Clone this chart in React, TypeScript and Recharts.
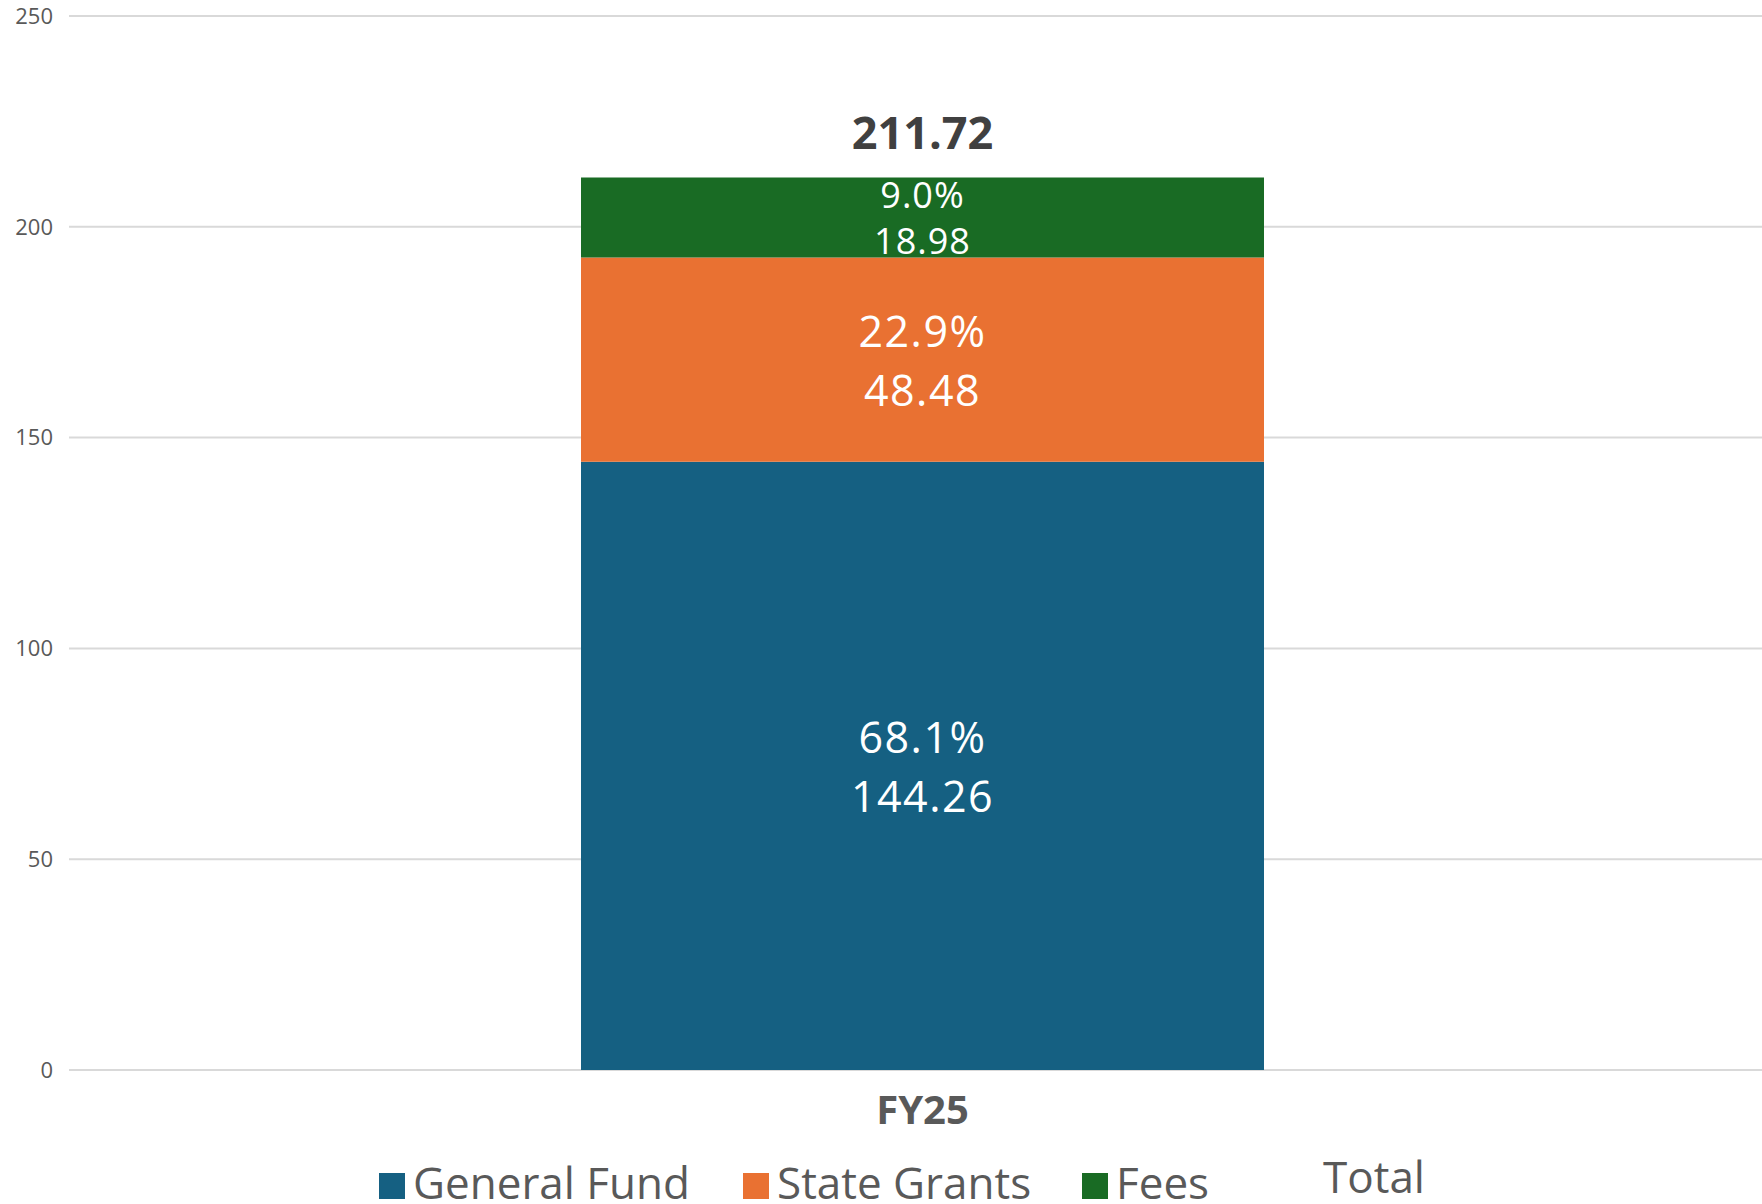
import {
  ComposedChart,
  Bar,
  Line,
  XAxis,
  YAxis,
  CartesianGrid,
  Legend,
  LabelList,
} from 'recharts';

const categories = ['FY25'];
const generalFund = [144.26];
const stateGrants = [48.48];
const fees = [18.98];
const yTicks = [0, 50, 100, 150, 200, 250];
const legendOrder = ['General Fund', 'State Grants', 'Fees', 'Total'];

const data = categories.map((name, i) => ({
  name,
  generalFund: generalFund[i],
  stateGrants: stateGrants[i],
  fees: fees[i],
  total: +(generalFund[i] + stateGrants[i] + fees[i]).toFixed(2),
}));

const FONT = '"Open Sans", sans-serif';
const COLORS = { generalFund: '#156082', stateGrants: '#E97132', fees: '#196B24' };

// two-line label: share of total, then value
const segmentLabel = (
  key: 'generalFund' | 'stateGrants' | 'fees',
  fontSize: number,
  gap: number,
  spacing: number
) =>
  (props: any) => {
    const { x, y, width, height, index } = props;
    const row = data[index];
    const v = row[key];
    const cx = Number(x) + Number(width) / 2;
    const cy = Number(y) + Number(height) / 2;
    const common = {
      x: cx,
      textAnchor: 'middle' as const,
      dominantBaseline: 'central' as const,
      fill: '#ffffff',
      fontSize,
      fontFamily: FONT,
      letterSpacing: spacing,
    };
    return (
      <g>
        <text {...common} y={cy - gap}>{((v / row.total) * 100).toFixed(1)}%</text>
        <text {...common} y={cy + gap}>{v.toFixed(2)}</text>
      </g>
    );
  };

const totalLabel = (props: any) => {
  const { x, y, value } = props;
  return (
    <text
      x={Number(x)}
      y={Number(y) - 28}
      textAnchor="middle"
      fill="#404040"
      fontSize={45}
      fontWeight={700}
      fontFamily={FONT}
    >
      {Number(value).toFixed(2)}
    </text>
  );
};

const slotWidths: Record<string, number> = {
  'General Fund': 364,
  'State Grants': 339,
  Fees: 241,
  Total: 200,
};

const LegendContent = (props: any) => {
  const items = [...(props.payload || [])].sort(
    (a: any, b: any) => legendOrder.indexOf(a.value) - legendOrder.indexOf(b.value)
  );
  return (
    <div style={{ position: 'relative', height: 70, width: 1762 }}>
      <div
        style={{
          position: 'absolute',
          left: 379,
          bottom: 0,
          display: 'flex',
          alignItems: 'baseline',
          fontFamily: FONT,
          fontSize: 44,
          lineHeight: 1,
          color: '#595959',
          whiteSpace: 'nowrap',
        }}
      >
        {items.map((item: any) => {
          const isTotal = item.dataKey === 'total';
          return (
            <div
              key={item.value}
              style={{
                width: slotWidths[item.value],
                display: 'flex',
                alignItems: 'baseline',
                position: 'relative',
                top: isTotal ? -6 : 0,
              }}
            >
              {!isTotal && (
                <div style={{ width: 26, height: 26, background: item.color, marginRight: 8 }} />
              )}
              <span style={{ display: 'inline-block', lineHeight: 1 }}>{item.value}</span>
            </div>
          );
        })}
      </div>
    </div>
  );
};

export default function App() {
  return (
    <div style={{ position: 'absolute', left: 0, top: 0, background: '#fff' }}>
      <ComposedChart
        width={1762}
        height={1204}
        data={data}
        margin={{ top: 16, right: 0, bottom: 0, left: 0 }}
      >
        <CartesianGrid vertical={false} stroke="#D9D9D9" strokeWidth={2} />
        <XAxis
          dataKey="name"
          axisLine={false}
          tickLine={false}
          tickSize={0}
          tickMargin={26}
          height={64}
          padding={{ left: 14, right: 0 }}
          tick={{ fontSize: 40, fontWeight: 700, fill: '#595959', fontFamily: FONT }}
        />
        <YAxis
          width={69}
          domain={[0, 250]}
          ticks={yTicks}
          axisLine={false}
          tickLine={false}
          tickSize={0}
          tickMargin={16}
          tick={{ fontSize: 22, fill: '#595959', fontFamily: FONT }}
        />
        <Legend verticalAlign="bottom" content={<LegendContent />} wrapperStyle={{ left: 0, bottom: 0 }} />
        <Bar dataKey="generalFund" name="General Fund" stackId="a" fill={COLORS.generalFund} barSize={683} isAnimationActive={false}>
          <LabelList dataKey="generalFund" content={segmentLabel('generalFund', 43, 29.5, 1.5)} />
        </Bar>
        <Bar dataKey="stateGrants" name="State Grants" stackId="a" fill={COLORS.stateGrants} barSize={683} isAnimationActive={false}>
          <LabelList dataKey="stateGrants" content={segmentLabel('stateGrants', 43, 29.5, 1.5)} />
        </Bar>
        <Bar dataKey="fees" name="Fees" stackId="a" fill={COLORS.fees} barSize={683} isAnimationActive={false}>
          <LabelList dataKey="fees" content={segmentLabel('fees', 36, 23, 1)} />
        </Bar>
        <Line
          dataKey="total"
          name="Total"
          stroke="transparent"
          strokeWidth={0}
          dot={{ r: 0, fill: 'transparent', stroke: 'transparent' }}
          activeDot={false}
          isAnimationActive={false}
        >
          <LabelList dataKey="total" content={totalLabel} />
        </Line>
      </ComposedChart>
    </div>
  );
}
